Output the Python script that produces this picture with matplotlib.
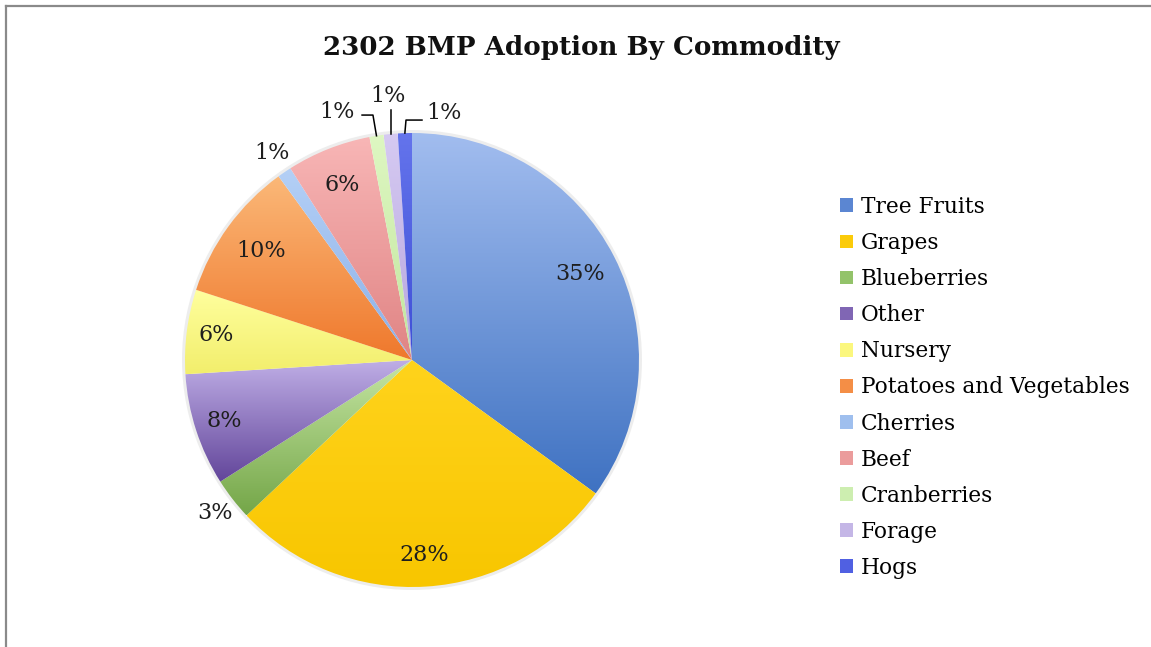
import numpy as np
import matplotlib
matplotlib.use("Agg")
import matplotlib.pyplot as plt
from matplotlib.colors import LinearSegmentedColormap
from matplotlib.patches import Patch, Circle
from matplotlib.lines import Line2D

# Share of BMP adoptions by commodity (percent)
categories = ["Tree Fruits", "Grapes", "Blueberries", "Other", "Nursery",
              "Potatoes and Vegetables", "Cherries", "Beef", "Cranberries",
              "Forage", "Hogs"]
shares = [35, 28, 3, 8, 6, 10, 1, 6, 1, 1, 1]
title = "2302 BMP Adoption By Commodity"

# Gradient fills: (top colour, bottom colour) for each slice
gradients = [
    ("#a2bdef", "#3f72c2"),
    ("#ffd31c", "#f8c600"),
    ("#c6e6a4", "#74a648"),
    ("#bfaee6", "#62459a"),
    ("#ffff9e", "#f2ee6c"),
    ("#fbb878", "#ef782c"),
    ("#b4d0f6", "#8cb0e8"),
    ("#f8b6b6", "#e08484"),
    ("#def7c2", "#c2e69e"),
    ("#d6caf2", "#b6a6de"),
    ("#6474ec", "#3e4ed6"),
]
legend_colors = ["#5b86d2", "#fbcb0a", "#93c36a", "#8066b4", "#fbf77e",
                 "#f48e46", "#9fbfee", "#eb9c9c", "#cdeeb0", "#c4b6e6",
                 "#5060e2"]

W, H, DPI = 1151, 647, 100
fig = plt.figure(figsize=(W / DPI, H / DPI), dpi=DPI)
fig.patch.set_facecolor("white")

# Axes covering the figure; one data unit equals the pie radius in pixels
cx, cy, R = 412, 360, 227
ax = fig.add_axes([0, 0, 1, 1])
ax.set_axis_off()

ax.add_patch(Circle((0, 0), 1.004, facecolor="none", edgecolor="#dcdcdc",
                    lw=3.0, alpha=0.5, zorder=0))

wedges, _ = ax.pie(shares, startangle=90, counterclock=False, radius=1,
                   center=(0, 0), wedgeprops=dict(linewidth=0))

grad = np.linspace(0, 1, 256).reshape(-1, 1)
for w, (top, bottom) in zip(wedges, gradients):
    w.set_facecolor("none")
    w.set_edgecolor("none")
    ext = w.get_path().get_extents()
    cmap = LinearSegmentedColormap.from_list("g", [bottom, top])
    im = ax.imshow(grad, cmap=cmap, extent=(ext.x0, ext.x1, ext.y0, ext.y1),
                   origin="lower", aspect="auto", interpolation="bilinear",
                   zorder=1)
    im.set_clip_path(w)

ax.set_xlim(-cx / R, (W - cx) / R)
ax.set_ylim(-(H - cy) / R, cy / R)

label_font = dict(family="DejaVu Serif", fontsize=16, color="#1e1e1e")

# Label radius per slice (None -> callout with leader line)
label_r = [0.83, 0.86, 1.10, 0.87, 0.87, 0.82, 1.10, 0.83, None, None, None]


def mid_point(w, r):
    a = np.deg2rad((w.theta1 + w.theta2) / 2)
    return r * np.cos(a), r * np.sin(a)


for w, val, r in zip(wedges, shares, label_r):
    if r is None:
        continue
    x, y = mid_point(w, r)
    ax.text(x, y, f"{val}%", ha="center", va="center", zorder=5, **label_font)

# Callouts for the three thin slices at the top
callouts = {
    8: dict(text=(-0.330, 1.093), path=[(-0.220, 1.079), (-0.172, 1.079)]),
    9: dict(text=(-0.106, 1.165), path=[None]),
    10: dict(text=(0.140, 1.090), path=[(0.044, 1.057)]),
}
for i, spec in callouts.items():
    w = wedges[i]
    ax.text(*spec["text"], f"{shares[i]}%", ha="center", va="center",
            zorder=5, **label_font)
    px, py = mid_point(w, 1.0)
    if i == 8:
        pts = spec["path"] + [(px, py)]
    elif i == 9:
        pts = [(px, py), (px, 1.10)]
    else:
        pts = [(px, py), (px + 0.005, 1.057)] + spec["path"]
    xs, ys = zip(*pts)
    ax.add_line(Line2D(xs, ys, color="black", lw=1.1, zorder=4))

# Title
fig.text(581 / W, 1 - 48 / H, title, ha="center", va="center",
         family="DejaVu Serif", fontweight="bold", fontsize=18.8,
         color="#111111")

# Legend
handles = [Patch(facecolor=c, edgecolor="none") for c in legend_colors]
fig.legend(handles, categories, loc="upper left",
           bbox_to_anchor=(840 / W, 1 - 196 / H), frameon=False,
           borderpad=0, borderaxespad=0, handlelength=0.6, handleheight=0.6,
           handletextpad=0.35, labelspacing=0.65,
           prop=dict(family="DejaVu Serif", size=15.6))

# Chart-area border (left and top edges)
fig.add_artist(Line2D([6 / W, 6 / W], [0, 1 - 6 / H], color="#8a8a8a",
                      lw=1.6, transform=fig.transFigure))
fig.add_artist(Line2D([6 / W, 1], [1 - 6 / H, 1 - 6 / H], color="#8a8a8a",
                      lw=1.6, transform=fig.transFigure))

fig.savefig("out.png", dpi=DPI, facecolor="white")
